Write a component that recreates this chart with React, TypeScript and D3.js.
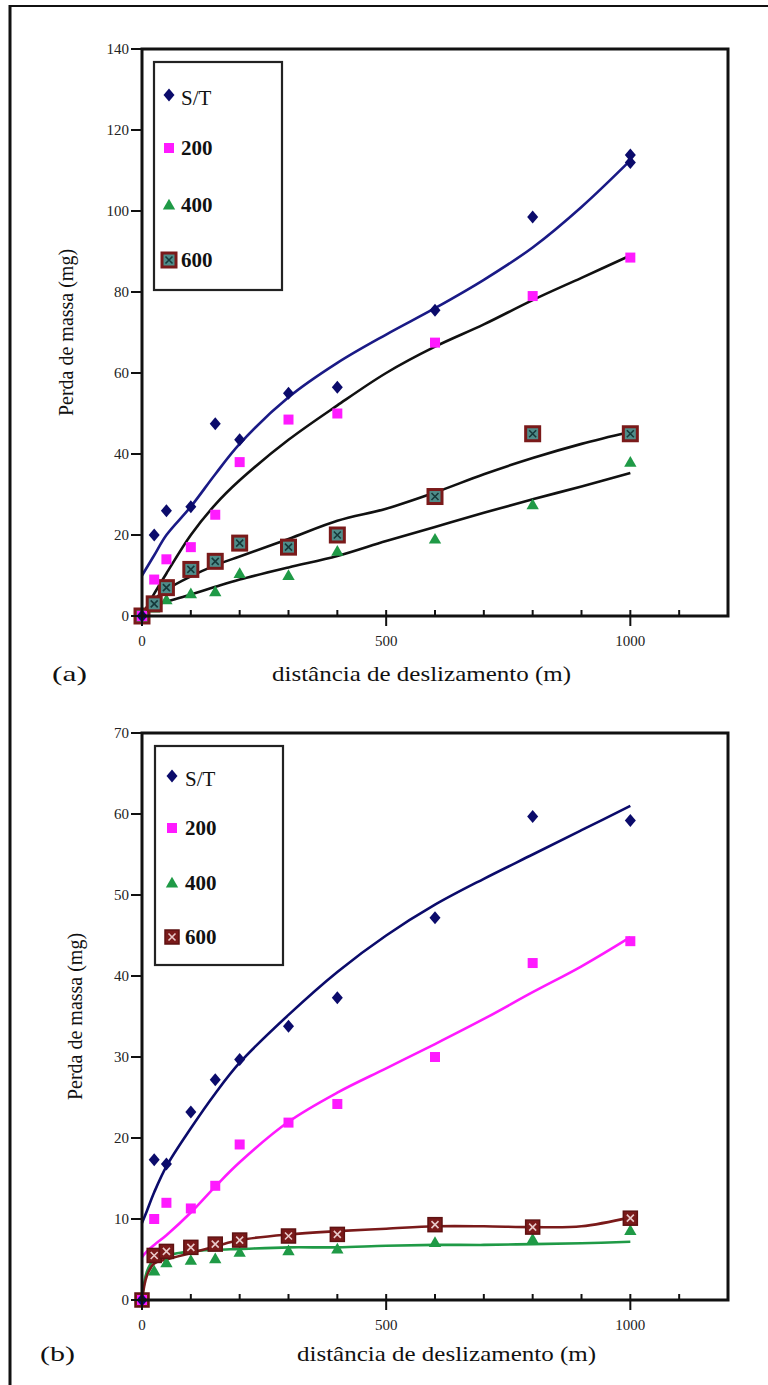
import React from "react";
import * as d3 from "d3";

// ---------- data ----------
const distances = [0, 25, 50, 100, 150, 200, 300, 400, 600, 800, 1000];
const xTicksMajor = [0, 500, 1000];
const xTicksMinor = [100, 200, 300, 400, 600, 700, 800, 900, 1100];
const yTicksA = [0, 20, 40, 60, 80, 100, 120, 140];
const yTicksB = [0, 10, 20, 30, 40, 50, 60, 70];
const seriesNames = ["S/T", "200", "400", "600"];

// Chart (a) measured points
const aST = [0, 20, 26, 27, 47.5, 43.5, 55, 56.5, 75.5, 98.5, 112];
const aSTExtraX = [1000];
const aSTExtraY = [113.8];
const a200 = [0, 9, 14, 17, 25, 38, 48.5, 50, 67.5, 79, 88.5];
const a400 = [0, 2, 4, 5.5, 6, 10.5, 10, 16, 19, 27.5, 38];
const a600 = [0, 3, 7, 11.5, 13.5, 18, 17, 20, 29.5, 45, 45];

// Chart (a) trend curves
const aFitX = [0, 25, 50, 100, 150, 200, 300, 400, 500, 600, 700, 800, 900, 1000];
const aFitST = [10, 15, 20, 27, 35, 42.5, 54, 62.5, 69.5, 76, 83, 91, 101, 112.5];
const aFit200 = [0, 5.5, 10.5, 20, 27.5, 33.5, 43.5, 52, 60, 66.5, 72, 78, 83.5, 89];
const aFit400 = [0, 2.5, 3.5, 5.3, 7.2, 9, 12, 14.8, 18.5, 22, 25.5, 28.8, 32, 35.3];
const aFit600 = [0, 4, 6.5, 9.8, 12.5, 14.7, 19, 23.5, 26.5, 30.5, 35, 39, 42.5, 45.5];

// Chart (b) measured points
const bST = [0, 17.3, 16.8, 23.2, 27.2, 29.7, 33.8, 37.3, 47.2, 59.7, 59.2];
const b200 = [0, 10, 12, 11.3, 14.1, 19.2, 21.9, 24.2, 30, 41.6, 44.3];
const b400 = [0, 3.6, 4.6, 4.9, 5.1, 5.9, 6.1, 6.3, 7.1, 7.5, 8.6];
const b600 = [0, 5.5, 6, 6.5, 6.9, 7.4, 7.9, 8.1, 9.3, 9.0, 10.1];

// Chart (b) trend curves
const bFitX = [0, 10, 25, 50, 100, 150, 200, 300, 400, 500, 600, 700, 800, 900, 1000];
const bFitST = [9.5, 11, 13.3, 16.5, 21.2, 25.5, 29.3, 35.2, 40.5, 45, 48.8, 52, 55, 58, 61];
const bFit200 = [5.3, 6, 6.8, 8, 10.8, 14, 17, 22, 25.6, 28.6, 31.6, 34.7, 38, 41.2, 44.8];
const bFit400 = [0, 3.5, 5, 5.5, 6.0, 6.2, 6.3, 6.5, 6.5, 6.7, 6.8, 6.8, 6.9, 7.0, 7.2];
const bFit600 = [0, 3, 4.5, 5.0, 5.8, 6.6, 7.4, 8.1, 8.5, 8.8, 9.1, 9.1, 9.0, 9.1, 10.2];

// ---------- styles ----------
const NAVY = "#0b0b6b";
const MAGENTA = "#ff1aff";
const GREEN = "#1f9a46";
const MAROON = "#7a1a1a";
const FONT = "Liberation Serif";

type Marker = "diamond" | "square" | "triangle" | "xsquare";

function MarkerShape({ kind, x, y, variant }: { kind: Marker; x: number; y: number; variant: "a" | "b" }) {
  if (kind === "diamond") {
    return <path d="M0,-6.5L5.5,0L0,6.5L-5.5,0Z" transform={`translate(${x},${y})`} fill={NAVY} />;
  }
  if (kind === "square") {
    return <rect x={x - 5} y={y - 5} width={10} height={10} fill={MAGENTA} />;
  }
  if (kind === "triangle") {
    const p = d3.symbol(d3.symbolTriangle, 66)();
    return <path d={p || ""} transform={`translate(${x},${y + 1})`} fill={GREEN} />;
  }
  const s = 14;
  const h = s / 2;
  if (variant === "a") {
    return (
      <g transform={`translate(${x},${y})`}>
        <rect x={-h} y={-h} width={s} height={s} fill="#4f8d8a" stroke={MAROON} strokeWidth={3} />
        <path d="M-3.5,-3.5L3.5,3.5M3.5,-3.5L-3.5,3.5" stroke="#16393a" strokeWidth={1.6} />
      </g>
    );
  }
  return (
    <g transform={`translate(${x},${y})`}>
      <rect x={-h} y={-h} width={s} height={s} fill={MAROON} stroke="#5e1212" strokeWidth={1.5} />
      <path d="M-3.5,-3.5L3.5,3.5M3.5,-3.5L-3.5,3.5" stroke="#e9c9c9" strokeWidth={1.6} />
    </g>
  );
}

type PanelProps = {
  top: number;
  yMax: number;
  yTicks: number[];
  points: { xs: number[]; ys: number[]; kind: Marker }[];
  fits: { ys: number[]; color: string }[];
  fitX: number[];
  variant: "a" | "b";
  legend: { x: number; y: number; w: number; h: number; rows: number[]; mx: number; tx: number };
  yTitleX: number;
  xTitleX: number;
  titleDy: number;
  label: string;
  labelX: number;
};

function Panel(props: PanelProps) {
  const left = 142;
  const right = 728;
  const plotTop = props.top;
  const plotBottom = props.top + 567;
  const x = d3.scaleLinear().domain([0, 1200]).range([left, right]);
  const y = d3.scaleLinear().domain([0, props.yMax]).range([plotBottom, plotTop]);
  const line = d3
    .line<number>()
    .x((_, i) => x(props.fitX[i]))
    .y((d) => y(d))
    .curve(d3.curveCatmullRom.alpha(0.5));
  const kinds: Marker[] = ["diamond", "square", "triangle", "xsquare"];
  const lg = props.legend;
  return (
    <g>
      {props.fits.map((f, i) => (
        <path key={i} d={line(f.ys) || ""} fill="none" stroke={f.color} strokeWidth={2.6} strokeLinejoin="round" />
      ))}
      {[2, 3, 1, 0].map((si) => {
        const s = props.points[si];
        return (
          <g key={si}>
            {s.xs.map((xv, j) => (
              <MarkerShape key={j} kind={s.kind} x={x(xv)} y={y(s.ys[j])} variant={props.variant} />
            ))}
          </g>
        );
      })}
      <rect x={left} y={plotTop} width={right - left} height={plotBottom - plotTop} fill="none" stroke="#111" strokeWidth={3} />
      {props.yTicks.map((t) => (
        <g key={t}>
          <line x1={left - 11} x2={left} y1={y(t)} y2={y(t)} stroke="#111" strokeWidth={2} />
          <text x={left - 13} y={y(t)} dy="0.35em" textAnchor="end" fontFamily={FONT} fontSize={15} fill="#222">
            {t}
          </text>
        </g>
      ))}
      {xTicksMinor.map((t) => (
        <line key={t} x1={x(t)} x2={x(t)} y1={plotBottom} y2={plotBottom - 6} stroke="#111" strokeWidth={2} />
      ))}
      {xTicksMajor.map((t) => (
        <g key={t}>
          <line x1={x(t)} x2={x(t)} y1={plotBottom - 6} y2={plotBottom + 10} stroke="#111" strokeWidth={2} />
          <text x={x(t)} y={plotBottom + 25} dy="0.35em" textAnchor="middle" fontFamily={FONT} fontSize={15} fill="#222">
            {t}
          </text>
        </g>
      ))}
      <text
        transform={`translate(${props.yTitleX},${(plotTop + plotBottom) / 2}) rotate(-90)`}
        textAnchor="middle"
        dy="0.35em"
        fontFamily={FONT}
        fontSize={20}
        fill="#111"
      >
        Perda de massa (mg)
      </text>
      <text
        x={props.xTitleX}
        y={plotBottom + props.titleDy}
        dy="0.35em"
        fontFamily={FONT}
        fontSize={22}
        fill="#111"
        textLength={299}
        lengthAdjust="spacingAndGlyphs"
      >
        distância de deslizamento (m)
      </text>
      <text x={props.labelX} y={plotBottom + props.titleDy} dy="0.35em" fontFamily={FONT} fontSize={22} fill="#111" textLength={35} lengthAdjust="spacingAndGlyphs">
        {props.label}
      </text>
      <rect x={lg.x} y={lg.y} width={lg.w} height={lg.h} fill="#fff" stroke="#222" strokeWidth={2.2} />
      {seriesNames.map((n, i) => (
        <g key={n}>
          <MarkerShape kind={kinds[i]} x={lg.mx} y={lg.rows[i]} variant={props.variant} />
          <text
            x={lg.tx}
            y={lg.rows[i] + (i === 0 ? 3 : 0)}
            dy="0.35em"
            fontFamily={FONT}
            fontSize={21}
            fontWeight={i === 0 ? "normal" : "bold"}
            fill="#111"
          >
            {n}
          </text>
        </g>
      ))}
    </g>
  );
}

export default function App() {
  return (
    <svg
      width={768}
      height={1385}
      viewBox="0 0 768 1385"
      style={{ position: "absolute", left: 0, top: 0, background: "#fff" }}
    >
      <rect x={0} y={0} width={768} height={1385} fill="#fff" />
      <line x1={9} x2={768} y1={6} y2={6} stroke="#111" strokeWidth={2} />
      <line x1={10} x2={10} y1={5} y2={1385} stroke="#111" strokeWidth={3} />
      <Panel
        top={49}
        yMax={140}
        yTicks={yTicksA}
        variant="a"
        points={[
          { xs: [...distances, ...aSTExtraX], ys: [...aST, ...aSTExtraY], kind: "diamond" },
          { xs: distances, ys: a200, kind: "square" },
          { xs: distances, ys: a400, kind: "triangle" },
          { xs: distances, ys: a600, kind: "xsquare" },
        ]}
        fitX={aFitX}
        fits={[
          { ys: aFitST, color: "#1a1a86" },
          { ys: aFit200, color: "#111" },
          { ys: aFit400, color: "#111" },
          { ys: aFit600, color: "#111" },
        ]}
        legend={{ x: 154, y: 62, w: 128, h: 228, rows: [95, 148, 205, 260], mx: 169, tx: 181 }}
        yTitleX={66}
        xTitleX={272}
        titleDy={57}
        label="(a)"
        labelX={52}
      />
      <Panel
        top={733}
        yMax={70}
        yTicks={yTicksB}
        variant="b"
        points={[
          { xs: distances, ys: bST, kind: "diamond" },
          { xs: distances, ys: b200, kind: "square" },
          { xs: distances, ys: b400, kind: "triangle" },
          { xs: distances, ys: b600, kind: "xsquare" },
        ]}
        fitX={bFitX}
        fits={[
          { ys: bFitST, color: NAVY },
          { ys: bFit200, color: MAGENTA },
          { ys: bFit400, color: GREEN },
          { ys: bFit600, color: MAROON },
        ]}
        legend={{ x: 155, y: 746, w: 128, h: 219, rows: [776, 828, 883, 937], mx: 172, tx: 185 }}
        yTitleX={75}
        xTitleX={297}
        titleDy={53}
        label="(b)"
        labelX={40}
      />
    </svg>
  );
}
